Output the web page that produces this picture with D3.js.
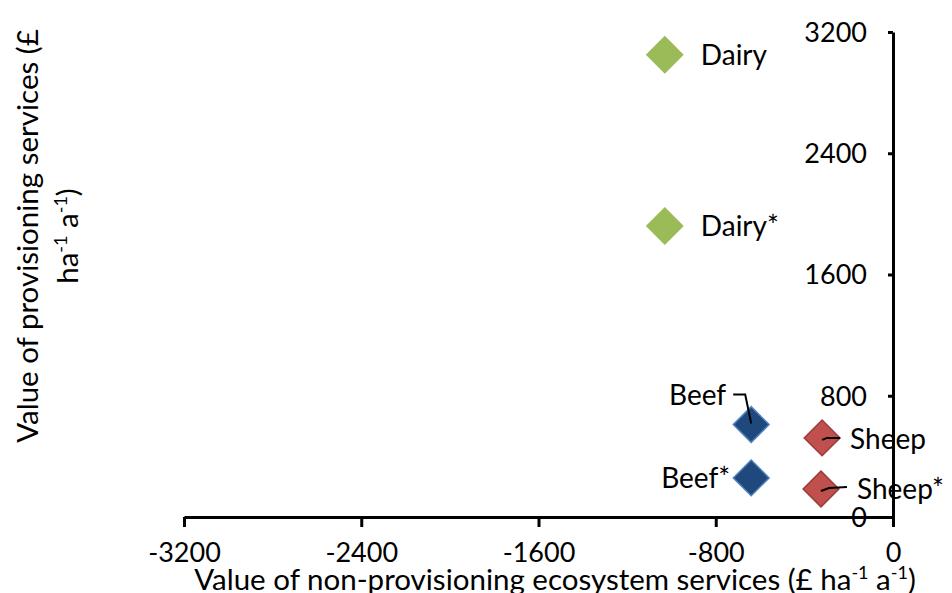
<!DOCTYPE html>
<html>
<head>
<meta charset="utf-8">
<script src="https://cdn.jsdelivr.net/npm/d3@7"></script>
<style>
  body { margin: 0; background: #fff; }
  svg { font-family: Lato, "Open Sans", sans-serif; }
</style>
</head>
<body>
<div class="canvas"></div>
<script>
// data
const names = ['Dairy', 'Dairy*', 'Beef', 'Beef*', 'Sheep', 'Sheep*'];
const nonProv = [-1030, -1030, -640, -640, -320, -325];   // x values
const prov = [3050, 1920, 610, 258, 522, 185];           // y values
const groups = ['dairy', 'dairy', 'beef', 'beef', 'sheep', 'sheep'];
const xTicks = [-3200, -2400, -1600, -800, 0];
const yTicks = [0, 800, 1600, 2400, 3200];

const fill = { dairy: '#9bbb59', beef: '#1f497d', sheep: '#c0504d' };
const edge = { dairy: '#9bbb59', beef: '#4f81bd', sheep: '#9c3c3a' };

const width = 952, height = 593;
const margin = { top: 32, right: 59, bottom: 76, left: 184 };
const graphWidth = width - margin.left - margin.right;
const graphHeight = height - margin.top - margin.bottom;

const svg = d3.select('.canvas')
              .append('svg')
              .attr('width', width)
              .attr('height', height);

svg.append('rect').attr('width', width).attr('height', height).attr('fill', '#fff');

const graph = svg.append('g')
                 .attr('transform', `translate(${margin.left}, ${margin.top})`);

// scales
const x = d3.scaleLinear().domain([-3200, 0]).range([0, graphWidth]);
const y = d3.scaleLinear().domain([0, 3200]).range([graphHeight, 0]);

// axes - plain numbers, ascii hyphen for minus
const fmt = d => String(d);
const xAxis = d3.axisBottom(x).tickValues(xTicks).tickSize(10).tickSizeOuter(0).tickPadding(16).tickFormat(fmt);
const yAxis = d3.axisLeft(y).tickValues(yTicks).tickSize(5).tickSizeOuter(0).tickPadding(21).tickFormat(fmt);

const xAxisGroup = graph.append('g')
                        .attr('transform', `translate(0, ${graphHeight})`)
                        .call(xAxis);
const yAxisGroup = graph.append('g')
                        .attr('transform', `translate(${x(0)}, 0)`)
                        .call(yAxis);

[xAxisGroup, yAxisGroup].forEach(g => {
  g.select('.domain').attr('stroke', '#000').attr('stroke-width', 3);
  g.selectAll('.tick line').attr('stroke', '#000').attr('stroke-width', 3);
  g.selectAll('.tick text').attr('fill', '#000').style('font-size', '27px').style('font-family', 'Lato');
});
yAxisGroup.selectAll('.tick text').attr('dy', '0.35em');
xAxisGroup.selectAll('.tick text').attr('dy', '0.72em');

// points
const pts = names.map((n, i) => ({ name: n, x: nonProv[i], y: prov[i], g: groups[i] }));

const diamond = d3.symbol().type(d3.symbolSquare).size(640);

graph.selectAll('path.pt')
     .data(pts)
     .enter()
     .append('path')
       .attr('class', 'pt')
       .attr('d', diamond)
       .attr('transform', d => `translate(${x(d.x)}, ${y(d.y)}) rotate(45)`)
       .attr('fill', d => fill[d.g])
       .attr('stroke', d => edge[d.g])
       .attr('stroke-width', 1.5);

// labels: offsets from the marker
const labelPos = {
  'Dairy':  { dx: 36, dy: 0, anchor: 'start' },
  'Dairy*': { dx: 36, dy: 0, anchor: 'start' },
  'Beef':   { dx: -25, dy: -30, anchor: 'end', leader: [[-18, -30], [-6, -30], [0, -1]] },
  'Beef*':  { dx: -21, dy: 0, anchor: 'end' },
  'Sheep':  { dx: 28, dy: 1, anchor: 'start', leader: [[0, 2], [5, 0], [18, 0]] },
  'Sheep*': { dx: 36, dy: 0, anchor: 'start', leader: [[0, 2], [8, -1], [26, -2]] }
};

const labels = graph.append('g');
pts.forEach(d => {
  const p = labelPos[d.name];
  const cx = x(d.x), cy = y(d.y);
  if (p.leader) {
    labels.append('path')
          .attr('d', d3.line()(p.leader.map(q => [cx + q[0], cy + q[1]])))
          .attr('fill', 'none')
          .attr('stroke', '#000')
          .attr('stroke-width', 2);
  }
  labels.append('text')
        .attr('x', cx + p.dx)
        .attr('y', cy + p.dy)
        .attr('dy', '0.36em')
        .attr('text-anchor', p.anchor)
        .style('font-size', '28px')
        .text(d.name);
});

// axis title with superscripts
function unitText(sel, pre) {
  sel.append('tspan').text(pre + 'ha');
  sel.append('tspan').attr('dy', -11).style('font-size', '18px').text('-1');
  sel.append('tspan').attr('dy', 11).text(' a');
  sel.append('tspan').attr('dy', -11).style('font-size', '18px').text('-1');
  sel.append('tspan').attr('dy', 11).text(')');
}

const xTitle = svg.append('text')
   .attr('x', 555)
   .attr('y', 590)
   .attr('text-anchor', 'middle')
   .style('font-size', '29.5px');
unitText(xTitle, 'Value of non-provisioning ecosystem services (£ ');

svg.append('text')
   .attr('transform', 'translate(38, 236) rotate(-90)')
   .attr('text-anchor', 'middle')
   .style('font-size', '29.5px')
   .text('Value of provisioning services (£');

const yTitle2 = svg.append('text')
   .attr('transform', 'translate(78, 236) rotate(-90)')
   .attr('text-anchor', 'middle')
   .style('font-size', '29.5px');
unitText(yTitle2, '');
</script>
</body>
</html>
